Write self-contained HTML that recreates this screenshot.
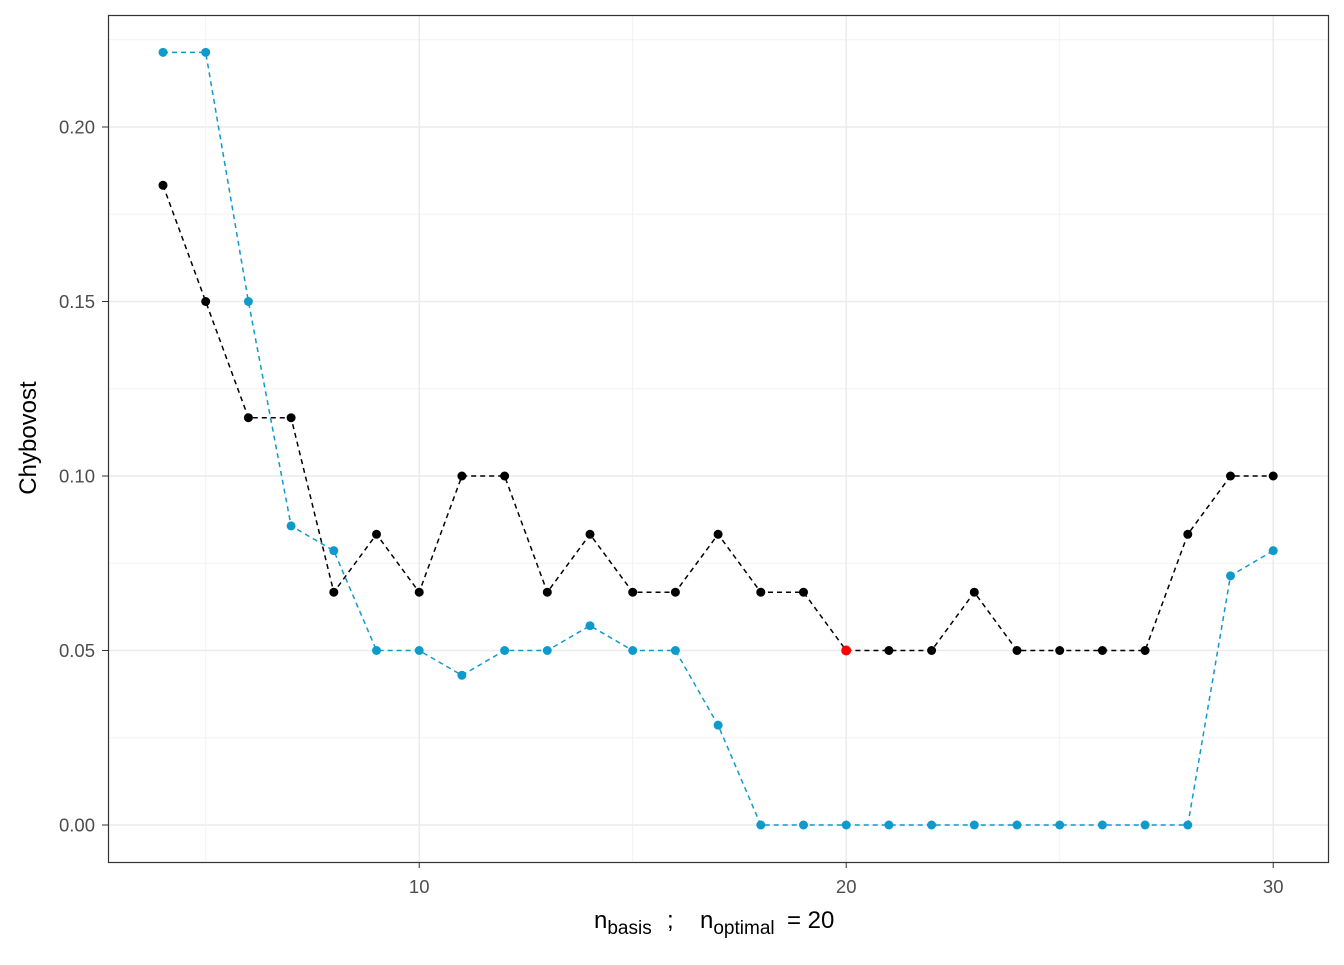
<!DOCTYPE html>
<html><head><meta charset="utf-8"><style>
html,body{margin:0;padding:0;background:#fff;}
svg text{font-family:"Liberation Sans",Arial,sans-serif;}
</style></head><body>
<svg id="s" width="1344" height="960" xmlns="http://www.w3.org/2000/svg">
<rect x="0" y="0" width="1344" height="960" fill="#fff"/>
<g id="grid"></g>
<g id="data"></g>
<rect x="108.5" y="15.5" width="1220" height="847" fill="none" stroke="#333" stroke-width="1.2"/>
<g id="ax" font-size="18.5" fill="#4d4d4d"></g>
<text x="36" y="438" font-size="24" fill="#000" text-anchor="middle" transform="rotate(-90 36 438)">Chybovost</text>
<g font-size="24" fill="#000">
<text x="594" y="928">n<tspan font-size="19" dy="6">basis</tspan></text>
<text x="667" y="928">;</text>
<text x="700" y="928">n<tspan font-size="19" dy="6">optimal</tspan></text>
<text x="787" y="928">= 20</text>
</g>
</svg>
<script>
const X=v=>163+(v-4)*42.7, Y=v=>825-v*3490;
const ns="http://www.w3.org/2000/svg";
function el(p,t,a){const e=document.createElementNS(ns,t);for(const k in a)e.setAttribute(k,a[k]);p.appendChild(e);return e;}
const g=document.getElementById('grid'),d=document.getElementById('data'),ax=document.getElementById('ax');
for(const v of [5,15,25])el(g,'line',{x1:X(v),x2:X(v),y1:15,y2:862,stroke:'#f2f2f2','stroke-width':1});
for(const v of [0.025,0.075,0.125,0.175,0.225])el(g,'line',{x1:108,x2:1329,y1:Y(v),y2:Y(v),stroke:'#f2f2f2','stroke-width':1});
for(const v of [10,20,30]){el(g,'line',{x1:X(v),x2:X(v),y1:15,y2:862,stroke:'#ebebeb','stroke-width':1.5});
 el(ax,'line',{x1:X(v),x2:X(v),y1:862,y2:868,stroke:'#333'});
 const t=el(ax,'text',{x:X(v),y:893,'text-anchor':'middle'});t.textContent=v;}
for(const v of [0,0.05,0.1,0.15,0.2]){el(g,'line',{x1:108,x2:1329,y1:Y(v),y2:Y(v),stroke:'#ebebeb','stroke-width':1.5});
 el(ax,'line',{x1:102,x2:108,y1:Y(v),y2:Y(v),stroke:'#333'});
 const t=el(ax,'text',{x:95,y:Y(v)+6.5,'text-anchor':'end'});t.textContent=v.toFixed(2);}
const b=[0.1833,0.15,0.1167,0.1167,0.0667,0.0833,0.0667,0.1,0.1,0.0667,0.0833,0.0667,0.0667,0.0833,0.0667,0.0667,0.05,0.05,0.05,0.0667,0.05,0.05,0.05,0.05,0.0833,0.1,0.1];
const c=[0.2214,0.2214,0.15,0.0857,0.0786,0.05,0.05,0.0429,0.05,0.05,0.0571,0.05,0.05,0.0286,0,0,0,0,0,0,0,0,0,0,0,0.0714,0.0786];
function series(a,col){el(d,'polyline',{points:a.map((v,i)=>X(i+4)+','+Y(v)).join(' '),fill:'none',stroke:col,'stroke-width':1.5,'stroke-dasharray':'5,4'});
 a.forEach((v,i)=>el(d,'circle',{cx:X(i+4),cy:Y(v),r:4.5,fill:col}));}
series(b,'#000');series(c,'#0e9bcc');
el(d,'circle',{cx:X(20),cy:Y(0.05),r:5,fill:'#ff0000'});
</script>
</body></html>
